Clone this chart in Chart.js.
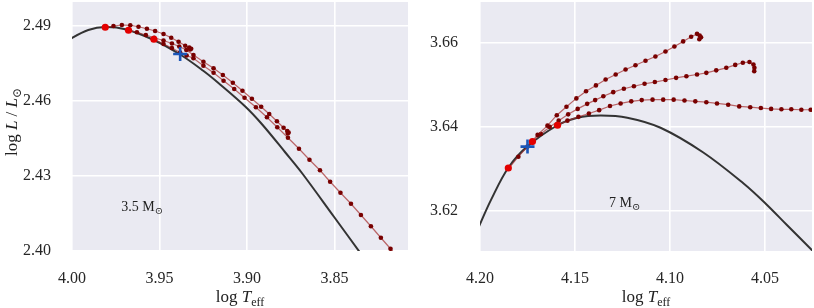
<!DOCTYPE html>
<html><head><meta charset="utf-8">
<script src="https://cdn.jsdelivr.net/npm/chart.js@4/dist/chart.umd.min.js"></script>
<style>
html,body{margin:0;padding:0;background:#fff;}
#wrap{position:relative;width:814px;height:308px;overflow:hidden;}
#c1{position:absolute;left:0;top:0;}
#c2{position:absolute;left:410px;top:0;}
</style></head><body>
<div id="wrap"><canvas id="c1" width="410" height="308"></canvas><canvas id="c2" width="404" height="308"></canvas></div>
<script>
// ---------- DATA: 3.5 Msun panel ----------
const leftCurveT = [4.006,4.000,3.9907,3.9810,3.9696,3.9536,3.9382,3.9250,3.9165,3.9010,3.8913,3.8782,3.8685,3.8502,3.8342,3.8239];
const leftCurveL = [2.4822,2.4852,2.4884,2.4896,2.4887,2.4845,2.4786,2.4721,2.4673,2.4578,2.4506,2.4395,2.4311,2.4136,2.3982,2.3880];
const leftTrack1T = [3.9810,3.9763,3.9715,3.9667,3.9620,3.9572,3.9525,3.9477,3.9433,3.9391,3.9353,3.9330,3.9319,3.9325];
const leftTrack1L = [2.4895,2.4900,2.4904,2.4903,2.4897,2.4889,2.4880,2.4868,2.4853,2.4837,2.4821,2.4814,2.4809,2.4806];
const leftTrack2T = [3.9677,3.9629,3.9578,3.9530,3.9477,3.9429,3.9387,3.9347,3.9306,3.9249,3.9191,3.9138,3.9081,3.9026,3.8972,3.8919,3.8873,3.8829,3.8791,3.8770,3.8762,3.8767];
const leftTrack2L = [2.4883,2.4875,2.4864,2.4853,2.4842,2.4830,2.4818,2.4804,2.4784,2.4757,2.4731,2.4704,2.4673,2.4641,2.4609,2.4577,2.4548,2.4519,2.4493,2.4480,2.4474,2.4470];
const leftTrack3T = [3.9532,3.9477,3.9429,3.9382,3.9345,3.9306,3.9249,3.9191,3.9134,3.9073,3.9014,3.8949,3.8886,3.8827,3.8766,3.8703,3.8643,3.8583,3.8525,3.8466,3.8406,3.8349,3.8292,3.8235,3.8180,3.8125];
const leftTrack3L = [2.4847,2.4828,2.4812,2.4794,2.4782,2.4771,2.4741,2.4713,2.4681,2.4648,2.4613,2.4575,2.4535,2.4495,2.4453,2.4409,2.4365,2.4323,2.4277,2.4233,2.4189,2.4144,2.4099,2.4053,2.4009,2.3964];
const leftStartT = [3.9810,3.9677,3.9532];
const leftStartL = [2.4895,2.4883,2.4847];
const leftCrossT = [3.9382];
const leftCrossL = [2.4788];
const leftXTicks = [3.85,3.90,3.95,4.00];
const leftYTicks = [2.40,2.43,2.46,2.49];

// ---------- DATA: 7 Msun panel ----------
const rightCurveT = [4.2030,4.2000,4.1942,4.1852,4.1752,4.1592,4.1487,4.1365,4.1225,4.1050,4.0825,4.0613,4.0499,4.0385,4.0251,4.0200];
const rightCurveL = [3.6135,3.6167,3.6225,3.6301,3.6352,3.6403,3.6421,3.6426,3.6421,3.6397,3.6338,3.6264,3.6217,3.6165,3.6104,3.6080];
const rightTrack1T = [4.1849,4.1798,4.1750,4.1697,4.1645,4.1596,4.1545,4.1493,4.1442,4.1390,4.1339,4.1286,4.1234,4.1182,4.1129,4.1077,4.1024,4.0977,4.0931,4.0889,4.0858,4.0844,4.0837,4.0846];
const rightTrack1L = [3.6300,3.6328,3.6352,3.6380,3.6402,3.6427,3.6447,3.6467,3.6484,3.6498,3.6512,3.6524,3.6536,3.6546,3.6557,3.6567,3.6579,3.6591,3.6603,3.6614,3.6621,3.6617,3.6613,3.6608];
const rightTrack2T = [4.1724,4.1680,4.1633,4.1586,4.1536,4.1486,4.1436,4.1394,4.1351,4.1299,4.1243,4.1190,4.1134,4.1080,4.1024,4.0968,4.0914,4.0858,4.0809,4.0757,4.0704,4.0657,4.0617,4.0582,4.0561,4.0556,4.0557];
const rightTrack2L = [3.6364,3.6382,3.6399,3.6414,3.6429,3.6442,3.6454,3.6463,3.6472,3.6482,3.6490,3.6496,3.6502,3.6506,3.6511,3.6516,3.6520,3.6524,3.6528,3.6534,3.6540,3.6547,3.6552,3.6554,3.6548,3.6540,3.6532];
const rightTrack3T = [4.1592,4.1540,4.1482,4.1427,4.1373,4.1316,4.1260,4.1204,4.1149,4.1092,4.1036,4.0981,4.0924,4.0867,4.0809,4.0753,4.0694,4.0636,4.0578,4.0522,4.0468,4.0414,4.0362,4.0309,4.0260,4.0211];
const rightTrack3L = [3.6403,3.6414,3.6423,3.6431,3.6439,3.6449,3.6455,3.6460,3.6463,3.6464,3.6464,3.6464,3.6462,3.6460,3.6458,3.6455,3.6452,3.6448,3.6446,3.6444,3.6442,3.6441,3.6441,3.6440,3.6440,3.6440];
const rightStartT = [4.1851,4.1724,4.1592];
const rightStartL = [3.6301,3.6364,3.6403];
const rightCrossT = [4.1750];
const rightCrossL = [3.6352];
const rightXTicks = [4.05,4.10,4.15,4.20];
const rightYTicks = [3.62,3.64,3.66];

// ---------- helpers ----------
const FF = '"Liberation Serif","DejaVu Serif",serif';
const zip = (xs, ys) => xs.map((x, i) => ({x: x, y: ys[i]}));

function fontOf(p, size) { return (p.i ? 'italic ' : '') + (p.sub ? Math.round(size * 0.72) : size) + 'px ' + FF; }
function richWidth(ctx, parts, size) { let w = 0; parts.forEach(p => { ctx.font = fontOf(p, size); w += ctx.measureText(p.t).width; }); return w; }
function drawRich(ctx, parts, x, y, size) {
  const w = richWidth(ctx, parts, size); let cx = x - w / 2;
  ctx.textBaseline = 'alphabetic'; ctx.textAlign = 'left';
  parts.forEach(p => { ctx.font = fontOf(p, size); ctx.fillText(p.t, cx, y + (p.sub ? size * 0.22 : 0)); cx += ctx.measureText(p.t).width; });
}
const xTitleParts = [{t: 'log '}, {t: 'T', i: true}, {t: 'eff', sub: true}];
const yTitleParts = [{t: 'log '}, {t: 'L', i: true}, {t: ' / '}, {t: 'L', i: true}, {t: '\u2299', sub: true}];

function decorPlugin(opts) {
  return {
    id: 'decor',
    beforeDraw(chart) {
      const {ctx, chartArea: a} = chart;
      ctx.save(); ctx.fillStyle = '#EAEAF2';
      ctx.fillRect(a.left, a.top, a.right - a.left, a.bottom - a.top); ctx.restore();
    },
    afterDraw(chart) {
      const {ctx, chartArea: a, scales} = chart;
      ctx.save(); ctx.fillStyle = '#222';
      drawRich(ctx, xTitleParts, (a.left + a.right) / 2, 302, 17);
      if (opts.yTitle) {
        ctx.save(); ctx.translate(17, 122); ctx.rotate(-Math.PI / 2);
        drawRich(ctx, yTitleParts, 0, 0, 17); ctx.restore();
      }
      const px = scales.x.getPixelForValue(opts.label.x), py = scales.y.getPixelForValue(opts.label.y);
      drawRich(ctx, opts.label.parts, px, py, 14);
      ctx.restore();
    }
  };
}

function axis(min, max, ticks, reverse, pad, fit) {
  return {
    type: 'linear', min: min, max: max, reverse: reverse,
    afterBuildTicks(s) { s.ticks = ticks.map(v => ({value: v})); },
    afterFit(s) { fit(s); s.paddingTop = 0; s.paddingBottom = 0; s.paddingLeft = 0; s.paddingRight = 0; },
    grid: {color: '#ffffff', lineWidth: 1.6, drawTicks: false},
    border: {display: false},
    ticks: {padding: pad, color: '#262626', font: {family: FF, size: 16}, callback: v => Number(v).toFixed(2)}
  };
}

function datasets(curve, tracks, starts, cross) {
  const ds = [];
  ds.push({data: cross, showLine: false, pointStyle: 'cross', pointRadius: 7, borderColor: '#1b56b8', borderWidth: 2.6, pointBorderWidth: 2.6});
  ds.push({data: starts, showLine: false, pointRadius: 3.6, pointBackgroundColor: '#e30000', pointBorderWidth: 0, borderWidth: 0});
  tracks.forEach(t => ds.push({data: t, borderColor: 'rgba(165,45,45,0.7)', borderWidth: 1.2, pointRadius: 2.3, pointBackgroundColor: '#780000', pointBorderWidth: 0, tension: 0}));
  ds.push({data: curve, borderColor: '#333333', borderWidth: 2, pointRadius: 0, tension: 0.35});
  return ds;
}

function makeChart(id, cfg) {
  return new Chart(document.getElementById(id), {
    type: 'line',
    data: {datasets: cfg.datasets},
    options: {
      responsive: false, animation: false, devicePixelRatio: 1,
      layout: {autoPadding: false, padding: {left: 0, right: 2, top: 2, bottom: 0}},
      plugins: {legend: {display: false}, tooltip: {enabled: false}, title: {display: false}},
      scales: {
        x: axis(cfg.xmin, cfg.xmax, cfg.xticks, true, 18, s => { s.height = 57; }),
        y: axis(cfg.ymin, cfg.ymax, cfg.yticks, false, cfg.ypad, s => { s.width = cfg.ywidth; })
      }
    },
    plugins: [decorPlugin(cfg.decor)]
  });
}

makeChart('c1', {
  datasets: datasets(zip(leftCurveT, leftCurveL),
    [zip(leftTrack1T, leftTrack1L), zip(leftTrack2T, leftTrack2L), zip(leftTrack3T, leftTrack3L)],
    zip(leftStartT, leftStartL), zip(leftCrossT, leftCrossL)),
  xmin: 3.808, xmax: 4.00, xticks: leftXTicks,
  ymin: 2.40, ymax: 2.4996, yticks: leftYTicks, ypad: 21, ywidth: 72,
  decor: {yTitle: true, label: {x: 3.9599, y: 2.416, parts: [{t: '3.5 M'}, {t: '\u2299', sub: true}]}}
});

makeChart('c2', {
  datasets: datasets(zip(rightCurveT, rightCurveL),
    [zip(rightTrack1T, rightTrack1L), zip(rightTrack2T, rightTrack2L), zip(rightTrack3T, rightTrack3L)],
    zip(rightStartT, rightStartL), zip(rightCrossT, rightCrossL)),
  xmin: 4.0253, xmax: 4.20, xticks: rightXTicks,
  ymin: 3.6103, ymax: 3.6697, yticks: rightYTicks, ypad: 22, ywidth: 70,
  decor: {yTitle: false, label: {x: 4.1239, y: 3.6207, parts: [{t: '7 M'}, {t: '\u2299', sub: true}]}}
});
</script>
</body></html>
